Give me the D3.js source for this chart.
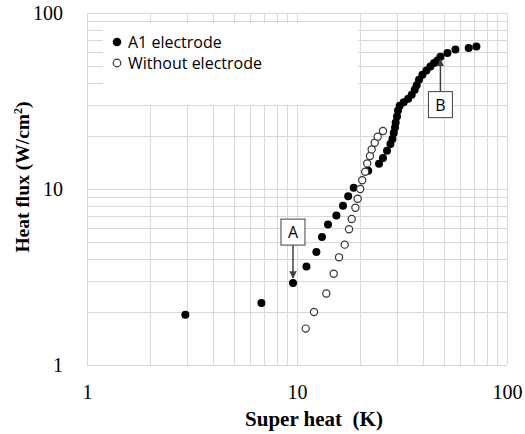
<!DOCTYPE html>
<html>
<head>
<meta charset="utf-8">
<script src="https://cdn.jsdelivr.net/npm/d3@7"></script>
<style>
  body { margin: 0; background: #fff; }
  svg { display: block; }
</style>
</head>
<body>
<svg id="chart"></svg>
<script>
// values
const withElectrodeX = [2.94, 6.77, 9.57, 11.09, 12.37, 13.15, 14.05, 15.4, 16.56, 17.53, 18.62,
  21.83, 24.58, 25.67, 26.83, 27.85, 28.47, 28.88, 29.29, 29.51, 29.94, 30.27, 30.83, 32.22,
  33.84, 35.17, 36.36, 37.15, 38.1, 39.55, 41.33, 43.17, 44.92, 46.63, 48.19, 52.03, 56.8, 65.7, 71.5];
const withElectrodeY = [1.93, 2.25, 2.92, 3.63, 4.39, 5.34, 6.29, 7.08, 8.04, 9.1, 10.17,
  12.7, 13.92, 15.0, 16.5, 18.02, 19.23, 20.81, 22.39, 23.9, 25.85, 27.97, 29.74, 31.13,
  32.59, 34.35, 36.66, 38.89, 41.8, 44.6, 47.2, 49.7, 52.0, 53.8, 56.5, 59.3, 62.1, 63.2, 64.6];
const withoutX = [11.0, 12.05, 13.8, 14.95, 15.85, 16.87, 17.69, 18.22, 18.97, 19.45, 20.0,
  20.44, 21.12, 21.6, 22.26, 22.68, 23.44, 24.23, 25.67];
const withoutY = [1.61, 2.0, 2.55, 3.3, 4.09, 4.83, 5.91, 6.75, 7.83, 8.81, 10.0,
  11.22, 12.54, 13.98, 15.4, 16.79, 18.33, 19.83, 21.36];
const seriesNames = ["A1 electrode", "Without electrode"];
const tickValues = [1, 10, 100];
const notes = [{ label: "A", x: 9.57, y: 2.92, dir: "above" }, { label: "B", x: 48.19, y: 56.5, dir: "below" }];

const W = 525, H = 434;
const margin = { top: 13, right: 18, bottom: 69, left: 87 };

const svg = d3.select("#chart").attr("width", W).attr("height", H);

const x = d3.scaleLog().domain([1, 100]).range([margin.left, W - margin.right]);
const y = d3.scaleLog().domain([1, 100]).range([H - margin.bottom, margin.top]);

const gridVals = [];
for (let d = 1; d < 100; d *= 10) for (let k = 1; k <= 10; k++) gridVals.push(d * k);
const uniq = Array.from(new Set(gridVals.map(v => +v.toPrecision(3))));

const grid = svg.append("g").attr("stroke", "#d9d9d9").attr("stroke-width", 1);
grid.selectAll("line.v").data(uniq).enter().append("line")
  .attr("x1", d => Math.round(x(d)) + 0.5).attr("x2", d => Math.round(x(d)) + 0.5)
  .attr("y1", margin.top).attr("y2", H - margin.bottom);
grid.selectAll("line.h").data(uniq).enter().append("line")
  .attr("y1", d => Math.round(y(d)) + 0.5).attr("y2", d => Math.round(y(d)) + 0.5)
  .attr("x1", margin.left).attr("x2", W - margin.right);

// legend box (white, covers grid)
svg.append("rect").attr("x", 103).attr("y", 23).attr("width", 255).attr("height", 82).attr("fill", "#fff");

// axes (labels only, no tick marks)
const xAxis = svg.append("g")
  .attr("transform", `translate(0,${H - margin.bottom})`)
  .call(d3.axisBottom(x).tickValues(tickValues).tickFormat(d3.format("d")).tickSize(0).tickPadding(20));
const yAxis = svg.append("g")
  .attr("transform", `translate(${margin.left},0)`)
  .call(d3.axisLeft(y).tickValues(tickValues).tickFormat(d3.format("d")).tickSize(0).tickPadding(24));
[xAxis, yAxis].forEach(a => {
  a.select(".domain").remove();
  a.selectAll("text").attr("font-family", "Liberation Serif, serif").attr("font-size", 20).attr("fill", "#000");
});

svg.append("text").attr("x", 314).attr("y", 426).attr("text-anchor", "middle")
  .style("white-space", "pre")
  .attr("font-family", "Liberation Serif, serif").attr("font-weight", "bold").attr("font-size", 21)
  .text("Super heat  (K)");
const yt = svg.append("text").attr("transform", "translate(29,177) rotate(-90)").attr("text-anchor", "middle")
  .attr("font-family", "Liberation Serif, serif").attr("font-weight", "bold").attr("font-size", 19.5);
yt.append("tspan").text("Heat flux (W/cm");
yt.append("tspan").attr("font-size", 12).attr("dy", -7).text("2");
yt.append("tspan").attr("dy", 7).text(")");

// data
const filled = withElectrodeX.map((v, i) => [v, withElectrodeY[i]]);
const open = withoutX.map((v, i) => [v, withoutY[i]]);

svg.append("g").selectAll("circle").data(filled).enter().append("circle")
  .attr("cx", d => x(d[0])).attr("cy", d => y(d[1])).attr("r", 4).attr("fill", "#000");
svg.append("g").selectAll("circle").data(open).enter().append("circle")
  .attr("cx", d => x(d[0])).attr("cy", d => y(d[1])).attr("r", 3.6)
  .attr("fill", "#fff").attr("stroke", "#333").attr("stroke-width", 1.2);

// annotations
svg.append("defs").append("marker").attr("id", "arr").attr("viewBox", "0 0 10 10")
  .attr("refX", 9).attr("refY", 5).attr("markerWidth", 5).attr("markerHeight", 5).attr("orient", "auto")
  .append("path").attr("d", "M0,0L10,5L0,10z").attr("fill", "#404040");
notes.forEach(n => {
  const px = x(n.x), py = y(n.y);
  const up = n.dir === "above";
  const tipY = up ? py - 5 : py + 3;
  const tailY = up ? py - 38 : py + 35;
  const boxY = up ? tailY - 26 : tailY;
  svg.append("line").attr("x1", px).attr("x2", px).attr("y1", tailY).attr("y2", tipY)
    .attr("stroke", "#404040").attr("stroke-width", 1.5).attr("marker-end", "url(#arr)");
  svg.append("rect").attr("x", px - 12).attr("y", boxY).attr("width", 24).attr("height", 26)
    .attr("fill", "#fff").attr("stroke", "#404040").attr("stroke-width", 1);
  svg.append("text").attr("x", px).attr("y", boxY + 19).attr("text-anchor", "middle")
    .attr("font-family", "Open Sans, sans-serif").attr("font-size", 16).text(n.label);
});

// legend
const lg = svg.append("g").attr("font-family", "Open Sans, sans-serif").attr("font-size", 16);
seriesNames.forEach((s, i) => {
  const cy = 42 + i * 21;
  lg.append("circle").attr("cx", 117).attr("cy", cy).attr("r", i === 0 ? 4.3 : 3.8)
    .attr("fill", i === 0 ? "#000" : "#fff").attr("stroke", i === 0 ? "none" : "#333").attr("stroke-width", 1.2);
  lg.append("text").attr("x", 128).attr("y", cy + 5.5).text(s);
});
</script>
</body>
</html>
